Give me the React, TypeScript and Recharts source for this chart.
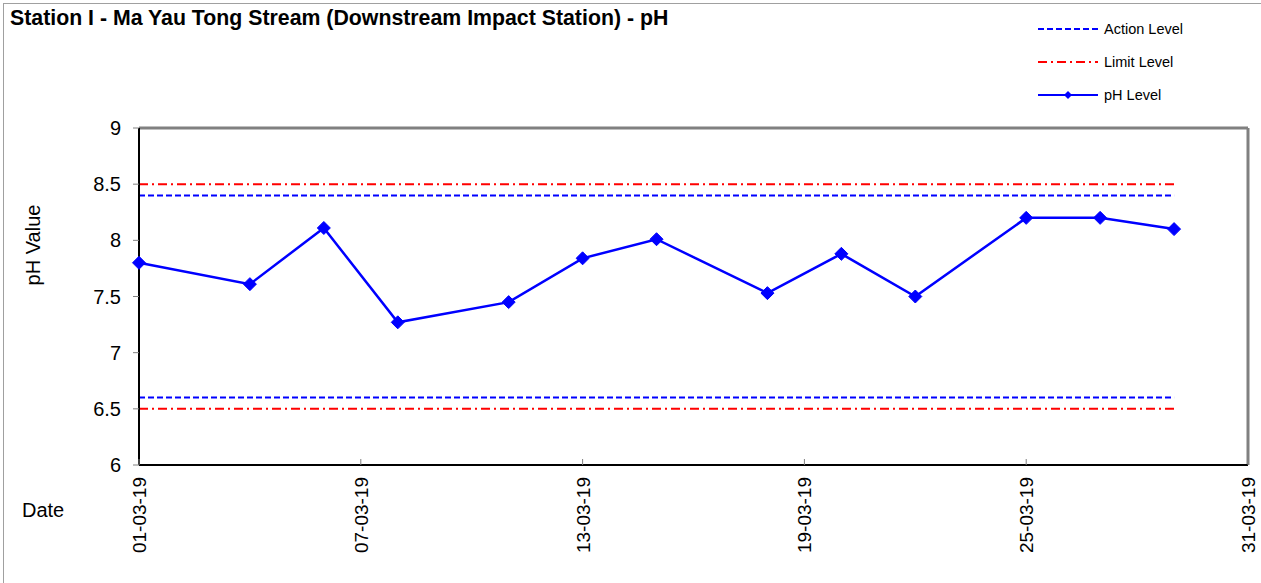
import { LineChart, Line, XAxis, YAxis, ReferenceLine } from "recharts"

const sampleDates = [
  "01-03-19", "04-03-19", "06-03-19", "08-03-19", "11-03-19", "13-03-19", "15-03-19",
  "18-03-19", "20-03-19", "22-03-19", "25-03-19", "27-03-19", "29-03-19",
]
const phValues = [7.8, 7.61, 8.11, 7.27, 7.45, 7.84, 8.01, 7.53, 7.88, 7.5, 8.2, 8.2, 8.1]
const actionLevels = [8.4, 6.6]
const limitLevels = [8.5, 6.5]
const xTickLabels = ["01-03-19", "07-03-19", "13-03-19", "19-03-19", "25-03-19", "31-03-19"]
const yTicks = [6, 6.5, 7, 7.5, 8, 8.5, 9]

const FONT = '"Liberation Sans", Arial, sans-serif'
const BLUE = "#0000ff"
const RED = "#ff0000"

// day offset from 1 March
const dayOf = (d: string) => Number(d.slice(0, 2)) - 1

const chartData = sampleDates.map((d, i) => ({
  day: dayOf(d),
  ph: phValues[i],
  actionHigh: actionLevels[0],
  actionLow: actionLevels[1],
  limitHigh: limitLevels[0],
  limitLow: limitLevels[1],
}))

const xTicks = xTickLabels.map(dayOf)

const Diamond = (props: any) => {
  const { cx, cy } = props
  if (cx == null || cy == null) return null
  const r = 6.5
  return (
    <polygon
      points={`${cx},${cy - r} ${cx + r},${cy} ${cx},${cy + r} ${cx - r},${cy}`}
      fill={BLUE}
      stroke={BLUE}
    />
  )
}

const DateTick = (props: any) => {
  const { x, y, payload } = props
  const idx = xTicks.indexOf(payload.value)
  return (
    <g>
      <line x1={x} y1={y - 6} x2={x} y2={y} stroke="#808080" strokeWidth={1} />
      <text
        x={x + 7}
        y={y + 12}
        transform={`rotate(-90 ${x + 7} ${y + 12})`}
        textAnchor="end"
        fontSize={19}
        fontFamily={FONT}
        fill="#000"
      >
        {idx >= 0 ? xTickLabels[idx] : ""}
      </text>
    </g>
  )
}

const legendItems = [
  { name: "Action Level", color: BLUE, dash: "6 3", marker: false },
  { name: "Limit Level", color: RED, dash: "9 4 2 4", marker: false },
  { name: "pH Level", color: BLUE, dash: undefined, marker: true },
]

const LegendBox = () => (
  <div
    style={{
      position: "absolute",
      left: 1038,
      top: 12,
      fontFamily: FONT,
      fontSize: 14.5,
      color: "#000",
    }}
  >
    {legendItems.map((item) => (
      <div key={item.name} style={{ display: "flex", alignItems: "center", height: 33 }}>
        <svg width={60} height={14} style={{ marginRight: 6 }}>
          <line x1={0} y1={7} x2={60} y2={7} stroke={item.color} strokeWidth={2} strokeDasharray={item.dash} />
          {item.marker && <polygon points="30,3 34,7 30,11 26,7" fill={item.color} />}
        </svg>
        <span>{item.name}</span>
      </div>
    ))}
  </div>
)

export default function App() {
  return (
    <div style={{ position: "absolute", left: 0, top: 0, width: 1261, height: 583, background: "#fff" }}>
      <div
        style={{
          position: "absolute",
          left: 3,
          top: 3,
          right: 0,
          bottom: 0,
          borderLeft: "1px solid #a0a0a0",
          borderTop: "1px solid #a0a0a0",
          pointerEvents: "none",
        }}
      />
      <div
        style={{
          position: "absolute",
          left: 10,
          top: 6,
          fontFamily: FONT,
          fontWeight: "bold",
          fontSize: 21.3,
          color: "#000",
          whiteSpace: "nowrap",
        }}
      >
        Station I - Ma Yau Tong Stream (Downstream Impact Station) - pH
      </div>
      <LegendBox />
      <LineChart
        width={1261}
        height={583}
        data={chartData}
        margin={{ top: 128, right: 13, bottom: 0, left: 0 }}
      >
        <XAxis
          dataKey="day"
          type="number"
          domain={[0, 30]}
          ticks={xTicks}
          interval={0}
          height={118}
          tickSize={0}
          tickMargin={0}
          tickLine={false}
          tick={<DateTick />}
          axisLine={{ stroke: "#000", strokeWidth: 2 }}
          label={() => (
            <text x={22} y={517} fontSize={20} fontFamily={FONT} fill="#000">
              Date
            </text>
          )}
        />
        <YAxis
          type="number"
          domain={[6, 9]}
          ticks={yTicks}
          interval={0}
          width={139}
          tickSize={6}
          tickMargin={12}
          tickLine={{ stroke: "#808080" }}
          tick={{ fontSize: 20, fontFamily: FONT, fill: "#000" }}
          axisLine={{ stroke: "#000", strokeWidth: 2 }}
          label={() => (
            <text
              x={40}
              y={245}
              transform="rotate(-90 40 245)"
              textAnchor="middle"
              fontSize={20}
              fontFamily={FONT}
              fill="#000"
            >
              pH Value
            </text>
          )}
        />
        <ReferenceLine y={9} stroke="#808080" strokeWidth={3} />
        <ReferenceLine x={30} stroke="#808080" strokeWidth={3} />
        <Line dataKey="limitHigh" stroke={RED} strokeWidth={2} strokeDasharray="9 4 2 4" dot={false} isAnimationActive={false} />
        <Line dataKey="limitLow" stroke={RED} strokeWidth={2} strokeDasharray="9 4 2 4" dot={false} isAnimationActive={false} />
        <Line dataKey="actionHigh" stroke={BLUE} strokeWidth={2} strokeDasharray="6 3" dot={false} isAnimationActive={false} />
        <Line dataKey="actionLow" stroke={BLUE} strokeWidth={2} strokeDasharray="6 3" dot={false} isAnimationActive={false} />
        <Line
          dataKey="ph"
          type="linear"
          stroke={BLUE}
          strokeWidth={2.5}
          dot={<Diamond />}
          activeDot={false}
          isAnimationActive={false}
        />
      </LineChart>
    </div>
  )
}
